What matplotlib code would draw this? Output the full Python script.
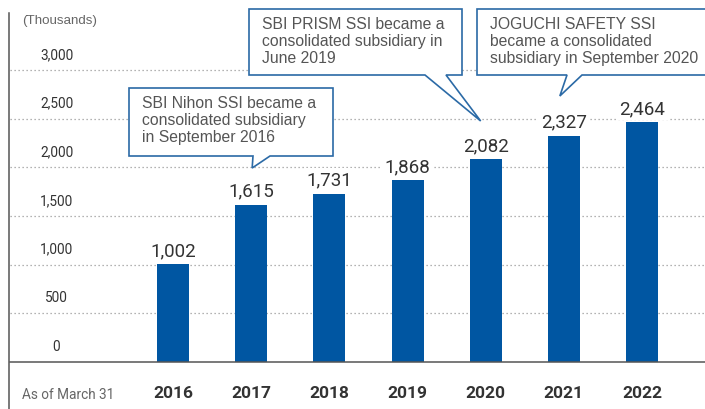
import matplotlib
matplotlib.use("Agg")
import matplotlib.pyplot as plt
from matplotlib.patches import Polygon

years = ["2016", "2017", "2018", "2019", "2020", "2021", "2022"]
values = [1002, 1615, 1731, 1868, 2082, 2327, 2464]
value_labels = ["1,002", "1,615", "1,731", "1,868", "2,082", "2,327", "2,464"]
y_ticks = [0, 500, 1000, 1500, 2000, 2500, 3000]
y_tick_labels = ["0", "500", "1,000", "1,500", "2,000", "2,500", "3,000"]
callouts = [
    ("SBI Nihon SSI became a\nconsolidated subsidiary\nin September 2016", 1),
    ("SBI PRISM SSI became a\nconsolidated subsidiary in\nJune 2019", 4),
    ("JOGUCHI SAFETY SSI\nbecame a consolidated\nsubsidiary in September 2020", 5),
]

W, H = 705, 410
BAR_COLOR = "#0056a2"
EDGE = "#2b6aa6"
FONT = "Roboto"
TFONT = "Liberation Sans"

fig = plt.figure(figsize=(W / 100, H / 100), dpi=100)
ax = fig.add_axes([0, 0, 1, 1])
ax.set_axis_off()

px_per_cat = 78.17
x0_px = 173
px_per_val = 292 / 3000
base_px = 363
ax.set_xlim(-x0_px / px_per_cat, (W - x0_px) / px_per_cat)
ax.set_ylim(-(H - base_px) / px_per_val, base_px / px_per_val)

def px2d(xp, yp):
    return ((xp - x0_px) / px_per_cat, (base_px - yp) / px_per_val)

xs = list(range(len(years)))
xl, _ = px2d(10, 0)
xr, _ = px2d(W, 0)

for v in y_ticks[1:]:
    ax.plot([xl, xr], [v, v], color="#9a9a9a", lw=0.9, ls=(0, (1, 2.2)), zorder=1)
ax.plot([xl, xr], [0, 0], color="#555555", lw=1.1, zorder=4)
lx, ly_top = px2d(9, 14)
_, ly_bot = px2d(9, H + 2)
ax.plot([lx, lx], [ly_bot, ly_top], color="#555555", lw=1.1, zorder=4, clip_on=False)

tx, _ = px2d(56.5, 0)
for v, lab in zip(y_ticks, y_tick_labels):
    ax.text(tx, v + 16 / px_per_val, lab, ha="center", va="center",
            fontsize=9.8, color="#333333", family=FONT)

ax.text(*px2d(22, 21), "(Thousands)", ha="left", va="center",
        fontsize=9.6, color="#666666", family=TFONT)

ax.bar(xs, values, width=32 / px_per_cat, color=BAR_COLOR, zorder=3)
for x, v, lab in zip(xs, values, value_labels):
    ax.annotate(lab, (x, v), xytext=(0, 6.5), textcoords="offset points",
                ha="center", va="baseline", fontsize=13.5, color="#333333",
                family=FONT, zorder=5,
                bbox=dict(boxstyle="square,pad=0.15", fc="white", ec="none"))

_, yl = px2d(0, 394)
for x, y in zip(xs, years):
    ax.text(x, yl, y, ha="center", va="center", fontsize=12.5,
            fontweight="bold", color="#333333", family=FONT)
ax.text(*px2d(22, 395), "As of March 31", ha="left", va="center",
        fontsize=9.8, color="#666666", family=FONT)

geoms = [
    (129, 89, 333, 157, 253, 270, 1, 169, 142, 96),
    (249, 10, 462, 76, 425, 446, -5, 122, 262, 17),
    (477, 10, 712, 76, 567, 582, -4, 97, 490, 17),
]
for (txt, idx), g in zip(callouts, geoms):
    l, t, r, b, a1, a2, dx, ay, tx_, ty_ = g
    apx = x0_px + idx * px_per_cat + dx
    pts = [(l, t), (r, t), (r, b), (a2, b), (apx, ay), (a1, b), (l, b)]
    poly = Polygon([px2d(*p) for p in pts], closed=True, fc="white", ec=EDGE,
                   lw=1.2, zorder=6, clip_on=False, joinstyle="miter")
    ax.add_patch(poly)
    ax.text(*px2d(tx_, ty_), txt, ha="left", va="top", fontsize=11.3,
            color="#555555", family=TFONT, linespacing=1.17, zorder=7)

fig.savefig("out.png", dpi=100)
